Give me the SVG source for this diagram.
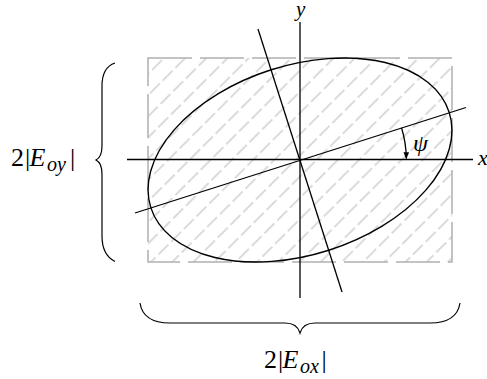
<svg xmlns="http://www.w3.org/2000/svg" width="487" height="379" viewBox="0 0 487 379">
<style>
.txt{font-family:"Liberation Serif","Times New Roman",serif;fill:#000}
.it{font-style:italic}
.ax{stroke:#000;stroke-width:1.3;fill:none}
.brace{stroke:#000;stroke-width:1.2;fill:none}
</style>
<defs>
<pattern id="hatch" patternUnits="userSpaceOnUse" width="15" height="18" patternTransform="rotate(45)">
<line x1="7" y1="0" x2="7" y2="14" stroke="#bdbdbd" stroke-width="1.1"/>
</pattern>
<marker id="arr" viewBox="0 0 10 10" refX="9" refY="5" markerWidth="7" markerHeight="7" orient="auto" markerUnits="userSpaceOnUse">
<path d="M0,1 L10,5 L0,9 Z" fill="#000"/>
</marker>
</defs>
<g id="box">
<rect x="148" y="58" width="304" height="204" fill="url(#hatch)"/>
<rect x="148" y="58" width="304" height="204" fill="none" stroke="#b0b0b0" stroke-width="1.5" stroke-dasharray="44 8"/>
</g>
<g id="ellipse">
<ellipse cx="300" cy="160" rx="156.6" ry="94.7" transform="rotate(-17.7 300 160)" fill="none" stroke="#000" stroke-width="1.4"/>
</g>
<g id="connectors">
<line class="ax" x1="127" y1="159.5" x2="473" y2="159.5"/>
<line class="ax" x1="300" y1="22" x2="300" y2="298"/>
<line class="ax" x1="135" y1="213" x2="466" y2="107.5"/>
<line class="ax" x1="258" y1="29" x2="342" y2="292"/>
<path class="ax" d="M401.5,127.8 A106.5,106.5 0 0 1 406.3,158.5" stroke-width="1.1" marker-end="url(#arr)"/>
</g>
<g id="braceLeft">
<path class="brace" d="M115,63 C106,66 102,74 102,86 L102,146 C102,153 100,158 96,160 C100,162 102,167 102,174 L102,236 C102,248 106,257 115,261.5"/>
</g>
<g id="braceBottom">
<path class="brace" d="M140,303 C142,316 152,323 170,323 L285,323 C293,323 298,326 300,333 C302,326 307,323 315,323 L430,323 C448,323 458,316 460,303"/>
</g>
<g id="labelY"><text class="txt it" x="296" y="16" font-size="21">y</text></g>
<g id="labelX"><text class="txt it" x="478" y="165" font-size="22">x</text></g>
<g id="labelPsi"><text class="txt it" x="413" y="151" font-size="24">ψ</text></g>
<g id="labelEoy">
<text class="txt" y="166" font-size="26"><tspan x="11">2</tspan><tspan x="25">|</tspan><tspan class="it" x="29.5">E</tspan><tspan class="it" x="47" y="171" font-size="20">oy</tspan><tspan x="70" y="166">|</tspan></text>
</g>
<g id="labelEox">
<text class="txt" y="368" font-size="26"><tspan x="264">2</tspan><tspan x="278">|</tspan><tspan class="it" x="282.5">E</tspan><tspan class="it" x="300" y="373" font-size="20">ox</tspan><tspan x="321.5" y="368">|</tspan></text>
</g>
</svg>
